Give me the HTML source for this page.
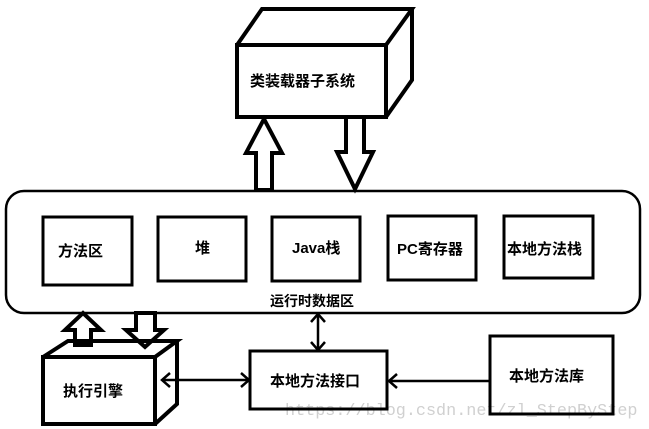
<!DOCTYPE html>
<html><head><meta charset="utf-8"><style>
html,body{margin:0;padding:0;background:#fff;}
svg{display:block;}
text{font-family:"Liberation Sans","Noto Sans CJK SC",sans-serif;font-weight:bold;font-size:15px;fill:#000;}
</style></head><body>
<svg width="649" height="429" viewBox="0 0 649 429" xmlns="http://www.w3.org/2000/svg">
<text x="285" y="415" style="font-family:'Liberation Mono',monospace;font-weight:normal;font-size:16.8px;fill:#d0d0d0">https://blog.csdn.net/zl_StepByStep</text>
<g fill="none" stroke="#000" stroke-linejoin="miter">
<rect x="237" y="45" width="149" height="72" stroke-width="4"/>
<polyline points="237,45 262,9 412,9 386,45" stroke-width="4"/>
<polyline points="412,9 412,80 386,117" stroke-width="4"/>
<polygon points="256,190 256,153 246,153 264,119 282,153 272,153 272,190" stroke-width="4"/>
<polygon points="346,117 346,152 337,152 355,189 373,152 364,152 364,117" stroke-width="4"/>
<rect x="6" y="191" width="634" height="122" rx="18" stroke-width="2.5"/>
<rect x="43" y="217" width="89" height="68" stroke-width="3"/>
<rect x="158" y="217" width="88" height="64" stroke-width="3"/>
<rect x="272" y="217" width="88" height="64" stroke-width="3"/>
<rect x="388" y="216" width="88" height="64" stroke-width="3"/>
<rect x="504" y="216" width="89" height="62" stroke-width="3"/>
<rect x="43" y="357" width="112" height="67" stroke-width="4"/>
<polyline points="43,357 68,341 177,341 155,357" stroke-width="4"/>
<polyline points="177,341 177,404 155,424" stroke-width="4"/>
<polygon points="75,345 75,330 65,330 83,313 101,330 91,330 91,345" stroke-width="4"/>
<polygon points="136,313 136,330 126,330 145,347 164,330 155,330 155,313" stroke-width="4"/>
<rect x="250" y="351" width="137" height="58" stroke-width="3"/>
<rect x="490" y="336" width="123" height="78" stroke-width="3"/>
<line x1="318" y1="314" x2="318" y2="350" stroke-width="2.5"/>
<polyline points="311,322 318,314 325,322" stroke-width="2.5"/>
<polyline points="311,342 318,350 325,342" stroke-width="2.5"/>
<line x1="162" y1="380" x2="249" y2="380" stroke-width="2.5"/>
<polyline points="170,373 162,380 170,387" stroke-width="2.5"/>
<polyline points="241,373 249,380 241,387" stroke-width="2.5"/>
<line x1="389" y1="381" x2="490" y2="381" stroke-width="2.5"/>
<polyline points="397,374 389,381 397,388" stroke-width="2.5"/>
</g>
<text x="250" y="86">类装载器子系统</text>
<text x="58" y="256">方法区</text>
<text x="195" y="253">堆</text>
<text x="292" y="253">Java栈</text>
<text x="397" y="254">PC寄存器</text>
<text x="507" y="254">本地方法栈</text>
<text x="270" y="306" style="font-size:14px">运行时数据区</text>
<text x="63" y="396">执行引擎</text>
<text x="270" y="386">本地方法接口</text>
<text x="509" y="381">本地方法库</text>
</svg>
</body></html>
